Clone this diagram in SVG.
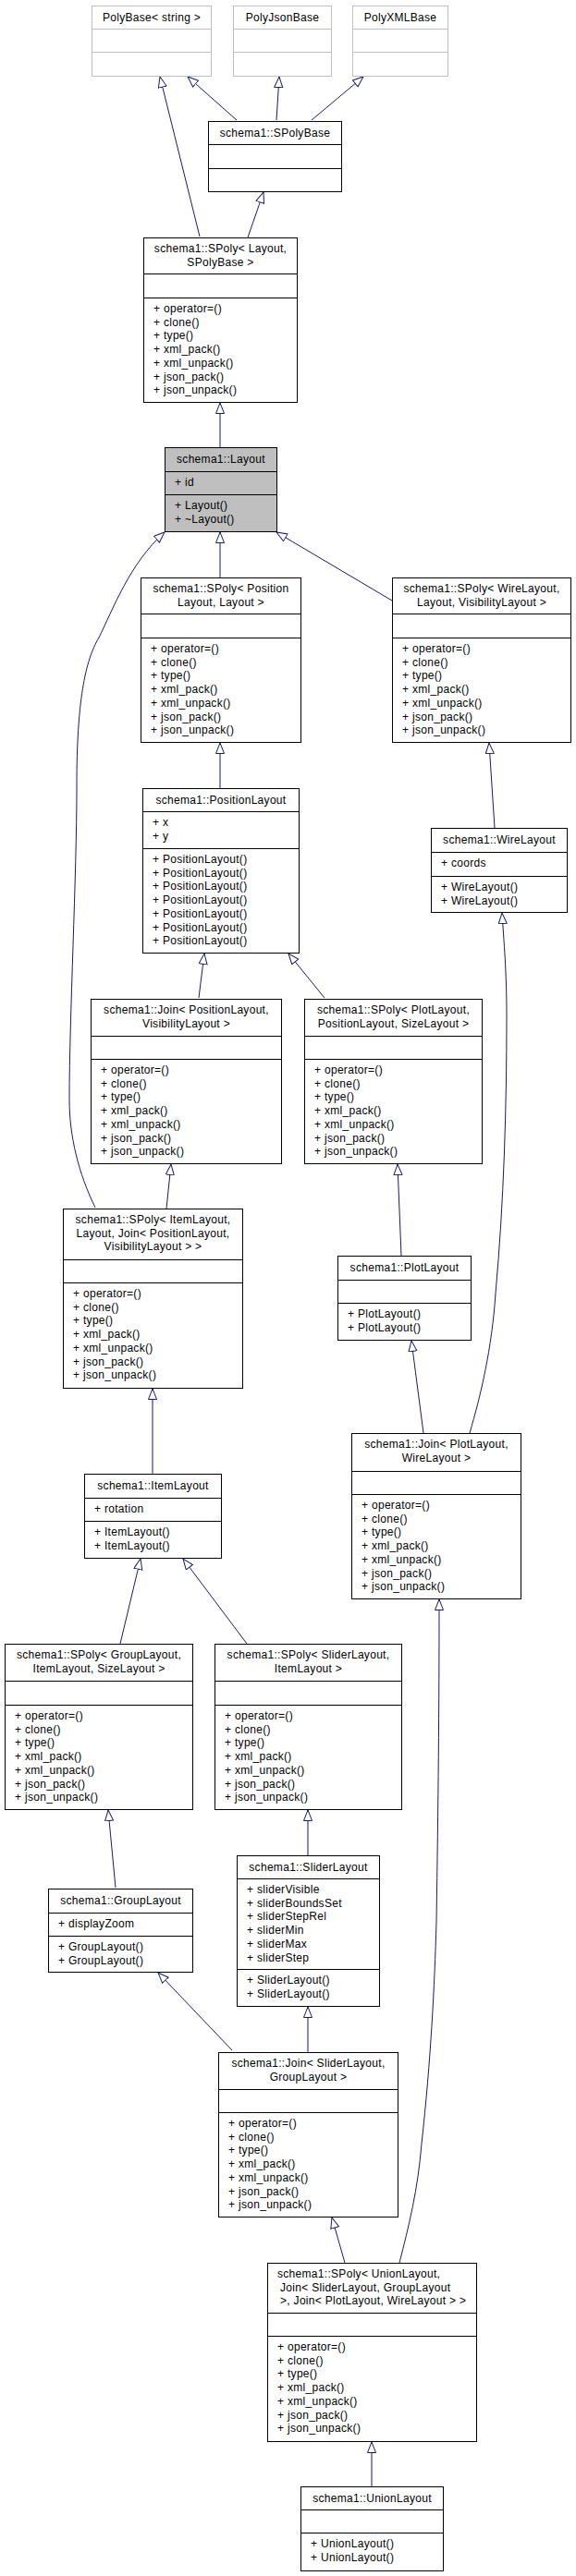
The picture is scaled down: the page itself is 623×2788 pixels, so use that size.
<svg xmlns="http://www.w3.org/2000/svg" width="623" height="2788" viewBox="0 0 623 2788">
<style>
rect{fill:#fff;stroke:#000;stroke-width:1}
.g rect,.g line{stroke:#bfbfbf}
.cur rect{fill:#bfbfbf}
line{stroke:#000;stroke-width:1}
text{font-family:"Liberation Sans",Arial,sans-serif;font-size:12px;letter-spacing:0.3px;fill:#000}
.t{text-anchor:middle}
#edges path{fill:none;stroke:#191970;stroke-width:1;marker-end:url(#tri)}
</style>
<defs>
<marker id="tri" markerUnits="userSpaceOnUse" markerWidth="14" markerHeight="12" refX="12" refY="5" orient="auto">
<path d="M0.5,0.5 L12,5 L0.5,9.5 Z" fill="#fff" stroke="#191970" stroke-width="1"/>
</marker>
</defs>
<rect x="0" y="0" width="623" height="2788" style="stroke:none;fill:#fff"/>
<g id="edges">
<path d="M216,256 L173,83"/>
<path d="M256,130 L203,83"/>
<path d="M299,130 L302,83"/>
<path d="M337,130 L393,83"/>
<path d="M268,257 L285,208"/>
<path d="M238,484 L238,436"/>
<path d="M238,625 L238,576"/>
<path d="M424,650 L299,576"/>
<path d="M103,1307 C85,1270 75,1230 75,1190 C75,1100 83,950 83,850 C83,760 92,715 107,690 C122,660 140,610 178,576"/>
<path d="M238,853 L238,804"/>
<path d="M535,896 L529,804"/>
<path d="M215,1080 L221,1032"/>
<path d="M351,1080 L312,1032"/>
<path d="M180,1308 L185,1260"/>
<path d="M434,1359 L430,1260"/>
<path d="M508,1551 C520,1510 532,1460 536,1400 C545,1300 548,1200 548,1100 C548,1050 545,1020 543,988"/>
<path d="M458,1551 L445,1451"/>
<path d="M165,1595 L165,1503"/>
<path d="M130,1779 L152,1687"/>
<path d="M267,1779 L198,1687"/>
<path d="M432,2449 C442,2410 452,2370 456,2320 C466,2230 470,2150 472,2080 C474,1950 475,1850 475,1731"/>
<path d="M125,2043 L117,1959"/>
<path d="M333,2008 L333,1959"/>
<path d="M251,2219 L171,2135"/>
<path d="M333,2221 L333,2172"/>
<path d="M373,2449 L359,2400"/>
<path d="M402,2691 L402,2643"/>
</g>
<g id="polybase" class="g"><rect x="99.5" y="6.5" width="129" height="76"/><line x1="99.5" y1="31.5" x2="228.5" y2="31.5"/><line x1="99.5" y1="56.5" x2="228.5" y2="56.5"/><text class="t" x="164" y="23">PolyBase&lt; string &gt;</text></g>
<g id="polyjsonbase" class="g"><rect x="252.5" y="6.5" width="106" height="76"/><line x1="252.5" y1="31.5" x2="358.5" y2="31.5"/><line x1="252.5" y1="56.5" x2="358.5" y2="56.5"/><text class="t" x="305.5" y="23">PolyJsonBase</text></g>
<g id="polyxmlbase" class="g"><rect x="381.5" y="6.5" width="103" height="76"/><line x1="381.5" y1="31.5" x2="484.5" y2="31.5"/><line x1="381.5" y1="56.5" x2="484.5" y2="56.5"/><text class="t" x="433" y="23">PolyXMLBase</text></g>
<g id="spolybase"><rect x="225.5" y="131.5" width="144" height="76"/><line x1="225.5" y1="156.5" x2="369.5" y2="156.5"/><line x1="225.5" y1="182.5" x2="369.5" y2="182.5"/><text class="t" x="297.5" y="148">schema1::SPolyBase</text></g>
<g id="spoly_layout"><rect x="155.5" y="257.5" width="166" height="178"/><line x1="155.5" y1="296.5" x2="321.5" y2="296.5"/><line x1="155.5" y1="322.5" x2="321.5" y2="322.5"/>
<text class="t" x="238.5" y="273">schema1::SPoly&lt; Layout,</text><text class="t" x="238.5" y="287.7">SPolyBase &gt;</text>
<text x="166" y="338">+ operator=()</text><text x="166" y="352.7">+ clone()</text><text x="166" y="367.4">+ type()</text><text x="166" y="382.1">+ xml_pack()</text><text x="166" y="396.8">+ xml_unpack()</text><text x="166" y="411.5">+ json_pack()</text><text x="166" y="426.2">+ json_unpack()</text></g>
<g id="layout" class="cur"><rect x="178.5" y="484.5" width="121" height="91"/><line x1="178.5" y1="510.5" x2="299.5" y2="510.5"/><line x1="178.5" y1="535.5" x2="299.5" y2="535.5"/>
<text class="t" x="239" y="501">schema1::Layout</text><text x="189" y="526">+ id</text><text x="189" y="551">+ Layout()</text><text x="189" y="565.7">+ ~Layout()</text></g>
<g id="spoly_position"><rect x="152.5" y="625.5" width="173" height="178"/><line x1="152.5" y1="664.5" x2="325.5" y2="664.5"/><line x1="152.5" y1="690.5" x2="325.5" y2="690.5"/>
<text class="t" x="239" y="641">schema1::SPoly&lt; Position</text><text class="t" x="239" y="655.7">Layout, Layout &gt;</text>
<text x="163" y="706">+ operator=()</text><text x="163" y="720.7">+ clone()</text><text x="163" y="735.4">+ type()</text><text x="163" y="750.1">+ xml_pack()</text><text x="163" y="764.8">+ xml_unpack()</text><text x="163" y="779.5">+ json_pack()</text><text x="163" y="794.2">+ json_unpack()</text></g>
<g id="spoly_wire"><rect x="424.5" y="625.5" width="193" height="178"/><line x1="424.5" y1="664.5" x2="617.5" y2="664.5"/><line x1="424.5" y1="690.5" x2="617.5" y2="690.5"/>
<text class="t" x="521" y="641">schema1::SPoly&lt; WireLayout,</text><text class="t" x="521" y="655.7">Layout, VisibilityLayout &gt;</text>
<text x="435" y="706">+ operator=()</text><text x="435" y="720.7">+ clone()</text><text x="435" y="735.4">+ type()</text><text x="435" y="750.1">+ xml_pack()</text><text x="435" y="764.8">+ xml_unpack()</text><text x="435" y="779.5">+ json_pack()</text><text x="435" y="794.2">+ json_unpack()</text></g>
<g id="positionlayout"><rect x="154.5" y="853.5" width="169" height="178"/><line x1="154.5" y1="878.5" x2="323.5" y2="878.5"/><line x1="154.5" y1="918.5" x2="323.5" y2="918.5"/>
<text class="t" x="239" y="870">schema1::PositionLayout</text><text x="165" y="894">+ x</text><text x="165" y="908.7">+ y</text>
<text x="165" y="934">+ PositionLayout()</text><text x="165" y="948.7">+ PositionLayout()</text><text x="165" y="963.4">+ PositionLayout()</text><text x="165" y="978.1">+ PositionLayout()</text><text x="165" y="992.8">+ PositionLayout()</text><text x="165" y="1007.5">+ PositionLayout()</text><text x="165" y="1022.2">+ PositionLayout()</text></g>
<g id="wirelayout"><rect x="466.5" y="896.5" width="147" height="91"/><line x1="466.5" y1="922.5" x2="613.5" y2="922.5"/><line x1="466.5" y1="948.5" x2="613.5" y2="948.5"/>
<text class="t" x="540" y="913">schema1::WireLayout</text><text x="477" y="938">+ coords</text><text x="477" y="964">+ WireLayout()</text><text x="477" y="978.7">+ WireLayout()</text></g>
<g id="join_pos_vis"><rect x="98.5" y="1081.5" width="206" height="178"/><line x1="98.5" y1="1121.5" x2="304.5" y2="1121.5"/><line x1="98.5" y1="1146.5" x2="304.5" y2="1146.5"/>
<text class="t" x="201.5" y="1097">schema1::Join&lt; PositionLayout,</text><text class="t" x="201.5" y="1111.7">VisibilityLayout &gt;</text>
<text x="109" y="1162">+ operator=()</text><text x="109" y="1176.7">+ clone()</text><text x="109" y="1191.4">+ type()</text><text x="109" y="1206.1">+ xml_pack()</text><text x="109" y="1220.8">+ xml_unpack()</text><text x="109" y="1235.5">+ json_pack()</text><text x="109" y="1250.2">+ json_unpack()</text></g>
<g id="spoly_plot"><rect x="329.5" y="1081.5" width="192" height="178"/><line x1="329.5" y1="1121.5" x2="521.5" y2="1121.5"/><line x1="329.5" y1="1146.5" x2="521.5" y2="1146.5"/>
<text class="t" x="425.5" y="1097">schema1::SPoly&lt; PlotLayout,</text><text class="t" x="425.5" y="1111.7">PositionLayout, SizeLayout &gt;</text>
<text x="340" y="1162">+ operator=()</text><text x="340" y="1176.7">+ clone()</text><text x="340" y="1191.4">+ type()</text><text x="340" y="1206.1">+ xml_pack()</text><text x="340" y="1220.8">+ xml_unpack()</text><text x="340" y="1235.5">+ json_pack()</text><text x="340" y="1250.2">+ json_unpack()</text></g>
<g id="spoly_item"><rect x="68.5" y="1308.5" width="194" height="194"/><line x1="68.5" y1="1363.5" x2="262.5" y2="1363.5"/><line x1="68.5" y1="1388.5" x2="262.5" y2="1388.5"/>
<text class="t" x="165.5" y="1324">schema1::SPoly&lt; ItemLayout,</text><text class="t" x="165.5" y="1338.7">Layout, Join&lt; PositionLayout,</text><text class="t" x="165.5" y="1353.4">VisibilityLayout &gt; &gt;</text>
<text x="79" y="1404">+ operator=()</text><text x="79" y="1418.7">+ clone()</text><text x="79" y="1433.4">+ type()</text><text x="79" y="1448.1">+ xml_pack()</text><text x="79" y="1462.8">+ xml_unpack()</text><text x="79" y="1477.5">+ json_pack()</text><text x="79" y="1492.2">+ json_unpack()</text></g>
<g id="plotlayout"><rect x="365.5" y="1359.5" width="144" height="91"/><line x1="365.5" y1="1385.5" x2="509.5" y2="1385.5"/><line x1="365.5" y1="1410.5" x2="509.5" y2="1410.5"/>
<text class="t" x="437.5" y="1376">schema1::PlotLayout</text><text x="376" y="1426">+ PlotLayout()</text><text x="376" y="1440.7">+ PlotLayout()</text></g>
<g id="join_plot_wire"><rect x="380.5" y="1551.5" width="183" height="179"/><line x1="380.5" y1="1592.5" x2="563.5" y2="1592.5"/><line x1="380.5" y1="1617.5" x2="563.5" y2="1617.5"/>
<text class="t" x="472" y="1567">schema1::Join&lt; PlotLayout,</text><text class="t" x="472" y="1581.7">WireLayout &gt;</text>
<text x="391" y="1633">+ operator=()</text><text x="391" y="1647.7">+ clone()</text><text x="391" y="1662.4">+ type()</text><text x="391" y="1677.1">+ xml_pack()</text><text x="391" y="1691.8">+ xml_unpack()</text><text x="391" y="1706.5">+ json_pack()</text><text x="391" y="1721.2">+ json_unpack()</text></g>
<g id="itemlayout"><rect x="91.5" y="1595.5" width="148" height="91"/><line x1="91.5" y1="1621.5" x2="239.5" y2="1621.5"/><line x1="91.5" y1="1646.5" x2="239.5" y2="1646.5"/>
<text class="t" x="165.5" y="1612">schema1::ItemLayout</text><text x="102" y="1637">+ rotation</text><text x="102" y="1662">+ ItemLayout()</text><text x="102" y="1676.7">+ ItemLayout()</text></g>
<g id="spoly_group"><rect x="5.5" y="1779.5" width="203" height="179"/><line x1="5.5" y1="1819.5" x2="208.5" y2="1819.5"/><line x1="5.5" y1="1845.5" x2="208.5" y2="1845.5"/>
<text class="t" x="107" y="1795">schema1::SPoly&lt; GroupLayout,</text><text class="t" x="107" y="1809.7">ItemLayout, SizeLayout &gt;</text>
<text x="16" y="1861">+ operator=()</text><text x="16" y="1875.7">+ clone()</text><text x="16" y="1890.4">+ type()</text><text x="16" y="1905.1">+ xml_pack()</text><text x="16" y="1919.8">+ xml_unpack()</text><text x="16" y="1934.5">+ json_pack()</text><text x="16" y="1949.2">+ json_unpack()</text></g>
<g id="spoly_slider"><rect x="232.5" y="1779.5" width="202" height="179"/><line x1="232.5" y1="1819.5" x2="434.5" y2="1819.5"/><line x1="232.5" y1="1845.5" x2="434.5" y2="1845.5"/>
<text class="t" x="333.5" y="1795">schema1::SPoly&lt; SliderLayout,</text><text class="t" x="333.5" y="1809.7">ItemLayout &gt;</text>
<text x="243" y="1861">+ operator=()</text><text x="243" y="1875.7">+ clone()</text><text x="243" y="1890.4">+ type()</text><text x="243" y="1905.1">+ xml_pack()</text><text x="243" y="1919.8">+ xml_unpack()</text><text x="243" y="1934.5">+ json_pack()</text><text x="243" y="1949.2">+ json_unpack()</text></g>
<g id="grouplayout"><rect x="52.5" y="2044.5" width="156" height="90"/><line x1="52.5" y1="2070.5" x2="208.5" y2="2070.5"/><line x1="52.5" y1="2095.5" x2="208.5" y2="2095.5"/>
<text class="t" x="130.5" y="2061">schema1::GroupLayout</text><text x="63" y="2086">+ displayZoom</text><text x="63" y="2111">+ GroupLayout()</text><text x="63" y="2125.7">+ GroupLayout()</text></g>
<g id="sliderlayout"><rect x="256.5" y="2008.5" width="154" height="163"/><line x1="256.5" y1="2033.5" x2="410.5" y2="2033.5"/><line x1="256.5" y1="2131.5" x2="410.5" y2="2131.5"/>
<text class="t" x="333.5" y="2025">schema1::SliderLayout</text>
<text x="267" y="2049">+ sliderVisible</text><text x="267" y="2063.7">+ sliderBoundsSet</text><text x="267" y="2078.4">+ sliderStepRel</text><text x="267" y="2093.1">+ sliderMin</text><text x="267" y="2107.8">+ sliderMax</text><text x="267" y="2122.5">+ sliderStep</text>
<text x="267" y="2147">+ SliderLayout()</text><text x="267" y="2161.7">+ SliderLayout()</text></g>
<g id="join_slider_group"><rect x="236.5" y="2221.5" width="194" height="178"/><line x1="236.5" y1="2261.5" x2="430.5" y2="2261.5"/><line x1="236.5" y1="2286.5" x2="430.5" y2="2286.5"/>
<text class="t" x="333.5" y="2237">schema1::Join&lt; SliderLayout,</text><text class="t" x="333.5" y="2251.7">GroupLayout &gt;</text>
<text x="247" y="2302">+ operator=()</text><text x="247" y="2316.7">+ clone()</text><text x="247" y="2331.4">+ type()</text><text x="247" y="2346.1">+ xml_pack()</text><text x="247" y="2360.8">+ xml_unpack()</text><text x="247" y="2375.5">+ json_pack()</text><text x="247" y="2390.2">+ json_unpack()</text></g>
<g id="spoly_union"><rect x="289.5" y="2449.5" width="226" height="193"/><line x1="289.5" y1="2503.5" x2="515.5" y2="2503.5"/><line x1="289.5" y1="2528.5" x2="515.5" y2="2528.5"/>
<text x="300" y="2465">schema1::SPoly&lt; UnionLayout,</text><text x="303" y="2479.7">Join&lt; SliderLayout, GroupLayout</text><text x="303" y="2494.4">&gt;, Join&lt; PlotLayout, WireLayout &gt; &gt;</text>
<text x="300" y="2544">+ operator=()</text><text x="300" y="2558.7">+ clone()</text><text x="300" y="2573.4">+ type()</text><text x="300" y="2588.1">+ xml_pack()</text><text x="300" y="2602.8">+ xml_unpack()</text><text x="300" y="2617.5">+ json_pack()</text><text x="300" y="2632.2">+ json_unpack()</text></g>
<g id="unionlayout"><rect x="325.5" y="2691.5" width="154" height="91"/><line x1="325.5" y1="2716.5" x2="479.5" y2="2716.5"/><line x1="325.5" y1="2741.5" x2="479.5" y2="2741.5"/>
<text class="t" x="402.5" y="2708">schema1::UnionLayout</text><text x="336" y="2757">+ UnionLayout()</text><text x="336" y="2771.7">+ UnionLayout()</text></g>
</svg>
